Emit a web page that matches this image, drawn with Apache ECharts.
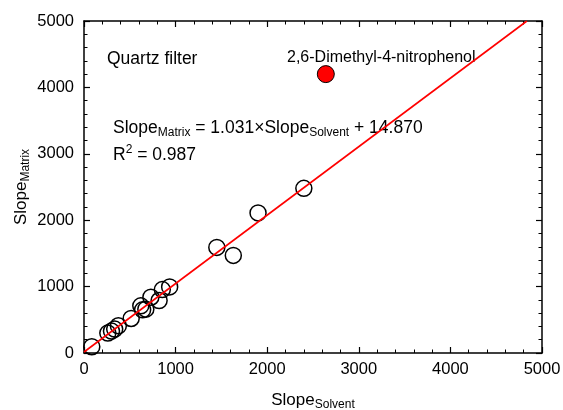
<!DOCTYPE html>
<html><head><meta charset="utf-8">
<script src="https://cdn.jsdelivr.net/npm/echarts@6/dist/echarts.min.js"></script>
<style>html,body{margin:0;padding:0;background:#fff}#c{width:563px;height:410px}</style>
</head><body><div id="c"></div>
<script>
// Data
const solventX = [85, 260, 300, 335, 375, 515, 620, 640, 675, 730, 820, 855, 935, 1450, 1630, 1900, 2400];
const matrixY  = [95, 300, 330, 360, 410, 520, 710, 650, 660, 840, 790, 955, 995, 1590, 1470, 2110, 2480];
const outlierX = [2640];
const outlierY = [4200];
const outlierName = '2,6-Dimethyl-4-nitrophenol';
const fitSlope = 1.031;
const fitIntercept = 14.870;
const rSquared = 0.987;
const axisMin = 0, axisMax = 5000, axisStep = 1000;

const FONT = '"Liberation Sans", Arial, sans-serif';
const pts = solventX.map((x, i) => [x, matrixY[i]]);
const outPts = outlierX.map((x, i) => [x, outlierY[i]]);
const xEnd = (axisMax - fitIntercept) / fitSlope;
const fitLine = [[axisMin, fitSlope * axisMin + fitIntercept], [xEnd, fitSlope * xEnd + fitIntercept]];

const rich = {
  m: {fontSize: 17.5, fontFamily: FONT, color: '#000', lineHeight: 20},
  s: {fontSize: 12, fontFamily: FONT, color: '#000', lineHeight: 20, padding: [10, 0, 0, 0]},
  p: {fontSize: 12, fontFamily: FONT, color: '#000', lineHeight: 20, padding: [0, 0, 10, 0]}
};
const nameRich = {
  m: {fontSize: 17, fontFamily: FONT, color: '#000', lineHeight: 20},
  s: {fontSize: 12, fontFamily: FONT, color: '#000', lineHeight: 20, padding: [10, 0, 0, 0]}
};

function axis(extra) {
  return Object.assign({
    type: 'value', min: axisMin, max: axisMax, interval: axisStep,
    axisLine: {show: true, onZero: false, lineStyle: {color: '#000', width: 1.5}},
    axisTick: {show: true, inside: true, length: 6, lineStyle: {color: '#000', width: 1.2}},
    minorTick: {show: true, splitNumber: 5, length: 3.5, lineStyle: {color: '#000', width: 1}},
    splitLine: {show: false},
    minorSplitLine: {show: false},
    axisLabel: {color: '#000', fontSize: 16.5, fontFamily: FONT, margin: 8, formatter: v => String(v)}
  }, extra);
}

const chart = echarts.init(document.getElementById('c'), null, {renderer: 'canvas'});
chart.setOption({
  animation: false,
  backgroundColor: '#fff',
  grid: {left: 84, right: 21, top: 21, bottom: 57, containLabel: false, outerBoundsMode: 'none'},
  xAxis: [
    axis({position: 'bottom', name: '{m|Slope}{s|Solvent}', nameLocation: 'middle', nameGap: 37,
      nameMoveOverlap: false, nameTextStyle: {rich: nameRich}}),
    axis({position: 'top', axisLabel: {show: false}})
  ],
  yAxis: [
    axis({position: 'left', name: '{m|Slope}{s|Matrix}', nameLocation: 'middle', nameGap: 53,
      nameMoveOverlap: false, nameTextStyle: {rich: nameRich},
      axisLabel: {color: '#000', fontSize: 16.5, fontFamily: FONT, margin: 10, formatter: v => String(v)}}),
    axis({position: 'right', axisLabel: {show: false}})
  ],
  series: [
    {type: 'scatter', data: pts, symbol: 'circle', symbolSize: 16,
      itemStyle: {color: 'rgba(0,0,0,0)', borderColor: '#000', borderWidth: 1.5, opacity: 1},
      emphasis: {disabled: true}},
    {type: 'scatter', name: outlierName, data: outPts, symbol: 'circle', symbolSize: 17,
      itemStyle: {color: '#ff0000', borderColor: '#000', borderWidth: 1, opacity: 1},
      emphasis: {disabled: true}},
    {type: 'line', data: fitLine, showSymbol: false, symbol: 'none',
      lineStyle: {color: '#ff0000', width: 1.6}, emphasis: {disabled: true}, z: 5}
  ],
  graphic: [
    {type: 'text', left: 107, top: 50, style: {text: 'Quartz filter', font: '17.5px ' + FONT, fill: '#000'}},
    {type: 'text', left: 287, top: 50, style: {text: outlierName, font: '16px ' + FONT, fill: '#000'}},
    {type: 'text', left: 113, top: 117, style: {
      text: '{m|Slope}{s|Matrix}{m| = ' + fitSlope.toFixed(3) + '×Slope}{s|Solvent}{m| + ' + fitIntercept.toFixed(3) + '}',
      rich: rich}},
    {type: 'text', left: 113, top: 144, style: {
      text: '{m|R}{p|2}{m| = ' + rSquared.toFixed(3) + '}', rich: rich}}
  ]
});
</script>
</body></html>
